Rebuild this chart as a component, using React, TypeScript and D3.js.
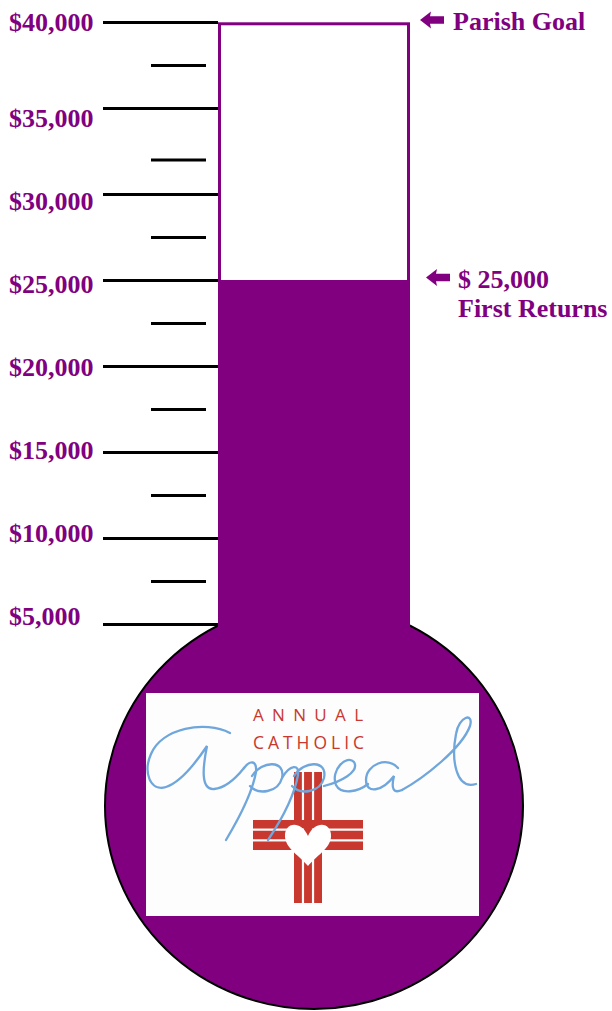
import React from 'react';
import * as d3 from 'd3';

// ---- data ----
const majorTicks = [40000, 35000, 30000, 25000, 20000, 15000, 10000, 5000];
const majorLabels = ['$40,000', '$35,000', '$30,000', '$25,000', '$20,000', '$15,000', '$10,000', '$5,000'];
const minorTicks = [37500, 32000, 27500, 22500, 17500, 12500, 7500];
const goalValue = 40000;
const raisedValue = 25000;
const goalLabel = ['Parish Goal'];
const raisedLabel = ['$ 25,000', 'First Returns'];
const logoWords = ['ANNUAL', 'CATHOLIC'];

const PURPLE = '#800080';
const RED = '#c9382e';
const BLUE = '#6fa6dc';
const SERIF = '"Liberation Serif", "Times New Roman", Times, serif';

const W = 612;
const H = 1011;

export default function App() {
  const y = d3.scaleLinear().domain([5000, 40000]).range([624.5, 22.5]);

  const tubeL = 218;
  const tubeR = 410;
  const tubeCx = (tubeL + tubeR) / 2;
  const bulb = { cx: tubeCx, cy: 806, rx: 209, ry: 203 };

  const majorX1 = 103;
  const minorX1 = 151;
  const minorX2 = 206;

  const labelBaseline = (i: number) => y(majorTicks[i]) + (i === 0 ? 8.5 : 18 - (i - 1) * 2.85);

  const arrow = (x: number, cy: number) => {
    // bold left arrow: head + shaft
    const p = d3.path();
    p.moveTo(x, cy);
    p.lineTo(x + 11, cy - 8.5);
    p.lineTo(x + 10, cy - 3.8);
    p.lineTo(x + 24, cy - 3.8);
    p.lineTo(x + 24, cy + 3.8);
    p.lineTo(x + 10, cy + 3.8);
    p.lineTo(x + 11, cy + 8.5);
    p.closePath();
    return p.toString();
  };

  // logo geometry
  const logo = { x: 146, y: 693, w: 333, h: 223 };
  const crossCx = 308;
  const vBar = { x: crossCx - 14, y: 772, w: 28, h: 131 };
  const hBar = { x: 253, y: 820, w: 110, h: 30 };
  const gap = 2.2;
  const vStripeW = (vBar.w - 2 * gap) / 3;
  const hStripeH = (hBar.h - 2 * gap) / 3;

  const heart =
    'M308 836 C301 820 284 822 285 837 C286 849 300 856 308 866 C316 856 330 849 331 837 C332 822 315 820 308 836 Z';

  const scriptPaths = [
    // A
    'M230 733 C205 720 162 728 151 754 C143 772 150 792 166 787 C181 782 195 764 207 746 C203 766 200 790 214 789 C226 788 236 778 244 768',
    // first p
    'M244 768 C250 760 257 760 256 772 C252 795 238 820 226 840',
    'M252 776 C262 760 286 760 282 778 C278 793 258 795 250 786',
    // second p
    'M282 778 C290 764 300 764 298 775 C294 798 280 822 268 840',
    'M294 776 C304 760 328 760 324 778 C320 793 300 795 292 786',
    // e
    'M324 786 C340 782 360 772 354 762 C347 754 330 770 336 785 C341 795 358 792 368 784',
    // a
    'M398 768 C388 756 366 764 366 780 C366 794 382 792 394 776 C391 788 393 794 402 790',
    // l
    'M402 790 C424 778 462 748 470 726 C474 712 459 716 456 734 C451 760 456 790 476 784',
  ];

  return (
    <svg
      width={W}
      height={H}
      viewBox={`0 0 ${W} ${H}`}
      style={{ position: 'absolute', left: 0, top: 0, background: '#fff' }}
    >
      {/* tube outline */}
      <rect
        x={tubeL + 1.5}
        y={y(goalValue) + 1.3}
        width={tubeR - tubeL - 3}
        height={650 - y(goalValue)}
        fill="#fff"
        stroke={PURPLE}
        strokeWidth={3}
      />
      {/* bulb */}
      <ellipse cx={bulb.cx} cy={bulb.cy} rx={bulb.rx} ry={bulb.ry} fill={PURPLE} stroke="#000" strokeWidth={2} />
      {/* mercury */}
      <rect x={tubeL} y={y(raisedValue) - 0.5} width={tubeR - tubeL} height={680 - y(raisedValue)} fill={PURPLE} />

      {/* major ticks */}
      {majorTicks.map((v) => (
        <line key={`M${v}`} x1={majorX1} x2={tubeL} y1={y(v)} y2={y(v)} stroke="#000" strokeWidth={3} />
      ))}
      {/* minor ticks */}
      {minorTicks.map((v) => (
        <line key={`m${v}`} x1={minorX1} x2={minorX2} y1={y(v)} y2={y(v)} stroke="#000" strokeWidth={3} />
      ))}
      {/* labels */}
      {majorLabels.map((t, i) => (
        <text
          key={t}
          x={9}
          y={labelBaseline(i)}
          fontFamily={SERIF}
          fontWeight="bold"
          fontSize={26}
          fill={PURPLE}
        >
          {t}
        </text>
      ))}

      {/* goal annotation */}
      <path d={arrow(420, y(goalValue) - 2.5)} fill={PURPLE} />
      <text x={453} y={30} fontFamily={SERIF} fontWeight="bold" fontSize={26} fill={PURPLE}>
        {goalLabel[0]}
      </text>

      {/* raised annotation */}
      <path d={arrow(426, y(raisedValue) - 3)} fill={PURPLE} />
      <text fontFamily={SERIF} fontWeight="bold" fontSize={26} fill={PURPLE}>
        <tspan x={458} y={y(raisedValue) + 7.5}>{raisedLabel[0]}</tspan>
        <tspan x={458} y={y(raisedValue) + 36.5}>{raisedLabel[1]}</tspan>
      </text>

      {/* logo */}
      <rect x={logo.x} y={logo.y} width={logo.w} height={logo.h} fill="#fdfdfd" />
      <text
        x={253}
        y={720.5}
        fontFamily='"Open Sans", "DejaVu Sans", sans-serif'
        fontSize={17}
        fill={RED}
        textLength={110}
        lengthAdjust="spacing"
      >
        {logoWords[0]}
      </text>
      <text
        x={253}
        y={748.5}
        fontFamily='"Open Sans", "DejaVu Sans", sans-serif'
        fontSize={17.5}
        fill={RED}
        textLength={111}
        lengthAdjust="spacing"
      >
        {logoWords[1]}
      </text>
      {/* cross */}
      {[0, 1, 2].map((k) => (
        <rect
          key={`v${k}`}
          x={vBar.x + k * (vStripeW + gap)}
          y={vBar.y}
          width={vStripeW}
          height={vBar.h}
          fill={RED}
        />
      ))}
      {[0, 1, 2].map((k) => (
        <rect
          key={`h${k}`}
          x={hBar.x}
          y={hBar.y + k * (hStripeH + gap)}
          width={hBar.w}
          height={hStripeH}
          fill={RED}
        />
      ))}
      <path d={heart} fill="#fff" />
      {/* script */}
      {scriptPaths.map((d, i) => (
        <path key={i} d={d} fill="none" stroke={BLUE} strokeWidth={2.3} strokeLinecap="round" />
      ))}
    </svg>
  );
}
